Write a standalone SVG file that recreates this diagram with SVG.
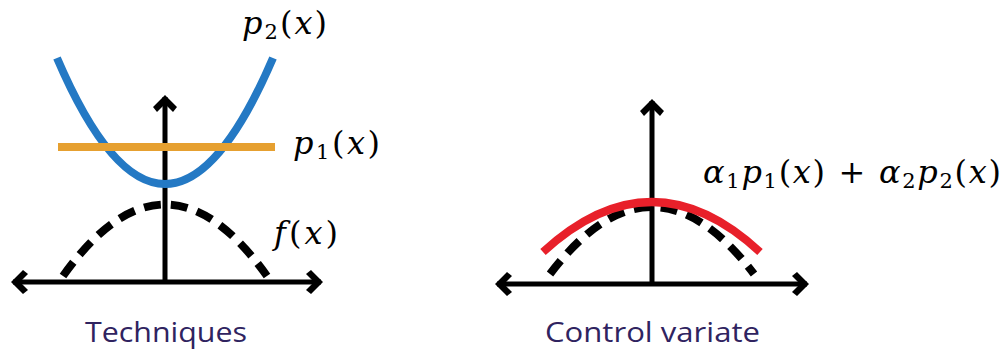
<svg xmlns="http://www.w3.org/2000/svg" width="1007" height="354" viewBox="0 0 1007 354">
<style>
.axis{stroke:#000;stroke-width:5;fill:none}
.curve{fill:none;stroke-width:8}
.dash{fill:none;stroke:#000;stroke-width:8;stroke-dasharray:17 10}
.math{font-family:"DejaVu Serif","Liberation Serif",serif;font-size:32px;fill:#000}
.mi{font-style:italic}
.sub{font-size:21px}
.cap{font-family:"Open Sans","Liberation Sans",sans-serif;font-size:28px;fill:#2F2360}
</style>
<defs>
<marker id="chev" markerUnits="userSpaceOnUse" markerWidth="30" markerHeight="30" viewBox="-20 -15 25 30" refX="0" refY="0" orient="auto-start-reverse">
<path d="M2,0 L-10,-12 L-15,-8 L-7,0 L-15,8 L-10,12 Z" fill="#000"/>
</marker>
</defs>
<g id="connectors">
<line class="axis" x1="13" y1="282" x2="321" y2="282" marker-start="url(#chev)" marker-end="url(#chev)"/>
<line class="axis" x1="165" y1="282" x2="165" y2="97" marker-end="url(#chev)"/>
<line class="axis" x1="497" y1="284" x2="807" y2="284" marker-start="url(#chev)" marker-end="url(#chev)"/>
<line class="axis" x1="652" y1="284" x2="652" y2="101" marker-end="url(#chev)"/>
</g>
<g id="p2-curve"><path class="curve" stroke="#2479C4" d="M57,58 Q165,310 273,58"/></g>
<g id="p1-line"><line class="curve" stroke="#E6A030" x1="58" y1="147" x2="275" y2="147"/></g>
<g id="f-left"><path class="dash" d="M63,276 Q165,133 267,276"/></g>
<g id="f-right"><path class="dash" d="M550,274 Q652,140 754,274"/></g>
<g id="combo-curve"><path class="curve" stroke="#E8202A" d="M543,252 Q652,152 760,252"/></g>
<g id="label-p2"><text class="math" x="242" y="34" textLength="85" lengthAdjust="spacing"><tspan class="mi">p</tspan><tspan class="sub" dy="5">2</tspan><tspan dy="-5">(</tspan><tspan class="mi">x</tspan>)</text></g>
<g id="label-p1"><text class="math" x="293" y="154" textLength="87" lengthAdjust="spacing"><tspan class="mi">p</tspan><tspan class="sub" dy="5">1</tspan><tspan dy="-5">(</tspan><tspan class="mi">x</tspan>)</text></g>
<g id="label-f"><text class="math" x="274" y="244" textLength="64" lengthAdjust="spacing"><tspan class="mi">f</tspan>(<tspan class="mi">x</tspan>)</text></g>
<g id="label-combo"><text class="math" x="703" y="183" textLength="298" lengthAdjust="spacing"><tspan class="mi">α</tspan><tspan class="sub" dy="5">1</tspan><tspan class="mi" dy="-5">p</tspan><tspan class="sub" dy="5">1</tspan><tspan dy="-5">(</tspan><tspan class="mi">x</tspan>) + <tspan class="mi">α</tspan><tspan class="sub" dy="5">2</tspan><tspan class="mi" dy="-5">p</tspan><tspan class="sub" dy="5">2</tspan><tspan dy="-5">(</tspan><tspan class="mi">x</tspan>)</text></g>
<g id="caption-left"><text class="cap" x="85" y="342" textLength="162" lengthAdjust="spacingAndGlyphs">Techniques</text></g>
<g id="caption-right"><text class="cap" x="545" y="342" textLength="215" lengthAdjust="spacingAndGlyphs">Control variate</text></g>
</svg>
